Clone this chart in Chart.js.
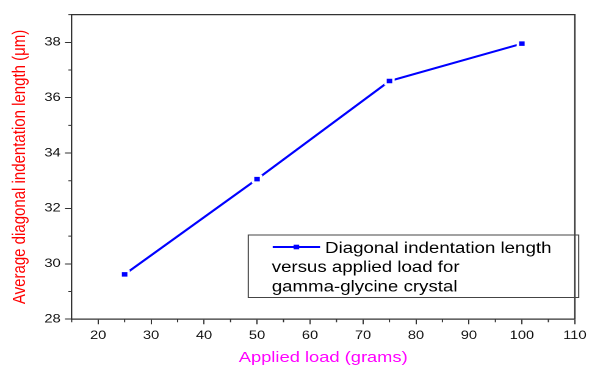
<!DOCTYPE html>
<html>
<head>
<meta charset="utf-8">
<style>
  html, body { margin: 0; padding: 0; background: #fff; }
  #c { display: block; }
</style>
<script src="https://cdn.jsdelivr.net/npm/chart.js@4"></script>
</head>
<body>
<canvas id="c" width="485" height="367" style="width:592px;height:367px"></canvas>
<script>
// Applied load (g) and the measured average diagonal length (µm)
const loads = [25, 50, 75, 100];
const diagonalLengths = [29.62, 33.06, 36.6, 37.95];

// Axis ticks
const xTickValues = [20, 30, 40, 50, 60, 70, 80, 90, 100, 110];
const xMinorTicks = [15, 25, 35, 45, 55, 65, 75, 85, 95, 105];
const yTickValues = [28, 30, 32, 34, 36, 38];
const yMinorTicks = [29, 31, 33, 35, 37, 39];

const xTitle = 'Applied load (grams)';
const yTitle = 'Average diagonal indentation length (\u03bcm)';
const legendLines = ['Diagonal indentation length', 'versus applied load for', 'gamma-glycine crystal'];

const seriesColor = '#0000ff';
const axisColor = '#333333';
const FONT = "'Liberation Sans', Arial, sans-serif";
Chart.defaults.font.family = FONT;

// Frame on the top and right, minor ticks and the boxed legend
const framePlugin = {
  id: 'frame',
  afterDraw(chart) {
    const { ctx, chartArea: a, scales } = chart;
    ctx.save();
    ctx.strokeStyle = axisColor;
    ctx.lineWidth = 1.2;
    ctx.beginPath();
    ctx.moveTo(a.left, a.top);
    ctx.lineTo(a.right, a.top);
    ctx.lineTo(a.right, a.bottom);
    ctx.stroke();

    ctx.lineWidth = 1;
    ctx.beginPath();
    xMinorTicks.forEach(v => {
      const px = scales.x.getPixelForValue(v);
      ctx.moveTo(px, a.bottom);
      ctx.lineTo(px, a.bottom + 3);
    });
    yMinorTicks.forEach(v => {
      const py = scales.y.getPixelForValue(v);
      ctx.moveTo(a.left, py);
      ctx.lineTo(a.left - 2.7, py);
    });
    ctx.stroke();

    // legend box
    const bx = a.left + 144.7, by = 235, bw = 270.7, bh = 62.5;
    ctx.strokeStyle = '#444';
    ctx.lineWidth = 1;
    ctx.strokeRect(bx, by, bw, bh);

    const sy = by + 12;
    ctx.strokeStyle = seriesColor;
    ctx.lineWidth = 2;
    ctx.beginPath();
    ctx.moveTo(bx + 20, sy);
    ctx.lineTo(bx + 58.8, sy);
    ctx.stroke();
    ctx.fillStyle = seriesColor;
    ctx.fillRect(bx + 39.4 - 2.3, sy - 2.3, 4.6, 4.6);

    ctx.fillStyle = '#000';
    ctx.font = '15.3px ' + FONT;
    ctx.textBaseline = 'alphabetic';
    ctx.textAlign = 'left';
    ctx.fillText(legendLines[0], bx + 62.9, by + 18);
    ctx.fillText(legendLines[1], bx + 19.2, by + 37);
    ctx.fillText(legendLines[2], bx + 19.2, by + 56.5);
    ctx.restore();
  }
};

new Chart(document.getElementById('c'), {
  type: 'line',
  data: {
    datasets: [{
      label: legendLines.join(' '),
      data: loads.map((x, i) => ({ x, y: diagonalLengths[i] })),
      borderColor: seriesColor,
      borderWidth: 2,
      pointStyle: 'rect',
      pointRadius: 4.6,
      pointBackgroundColor: seriesColor,
      pointBorderColor: '#ffffff',
      pointBorderWidth: 2,
      tension: 0,
      fill: false
    }]
  },
  options: {
    responsive: false,
    devicePixelRatio: 2,
    animation: false,
    events: [],
    layout: { padding: { top: 14.6, right: 9.4, left: 0, bottom: 0 } },
    plugins: { legend: { display: false }, tooltip: { enabled: false } },
    scales: {
      x: {
        type: 'linear',
        min: 15,
        max: 110,
        afterBuildTicks: axis => { axis.ticks = xTickValues.map(v => ({ value: v })); },
        afterFit: axis => { axis.height = 47.8; },
        grid: { drawOnChartArea: false, drawTicks: true, tickLength: 5, tickColor: axisColor, tickWidth: 1 },
        border: { display: true, color: axisColor, width: 1.2 },
        ticks: { color: '#111', font: { size: 12 }, padding: 4.5, maxRotation: 0, autoSkip: false },
        title: { display: true, text: xTitle, color: '#ff00ff', font: { size: 15 }, padding: { top: 0, bottom: 0 } }
      },
      y: {
        type: 'linear',
        min: 28,
        max: 39,
        afterBuildTicks: axis => { axis.ticks = yTickValues.map(v => ({ value: v })); },
        afterFit: axis => { axis.width = 58.7; },
        grid: { drawOnChartArea: false, drawTicks: true, tickLength: 5.5, tickColor: axisColor, tickWidth: 1 },
        border: { display: true, color: axisColor, width: 1.2 },
        ticks: { color: '#111', font: { size: 12 }, padding: 3.5, autoSkip: false },
        title: { display: true, text: yTitle, color: '#ff0000', font: { size: 15 }, padding: { top: 7.4, bottom: 0 } }
      }
    }
  },
  plugins: [framePlugin]
});
</script>
</body>
</html>
